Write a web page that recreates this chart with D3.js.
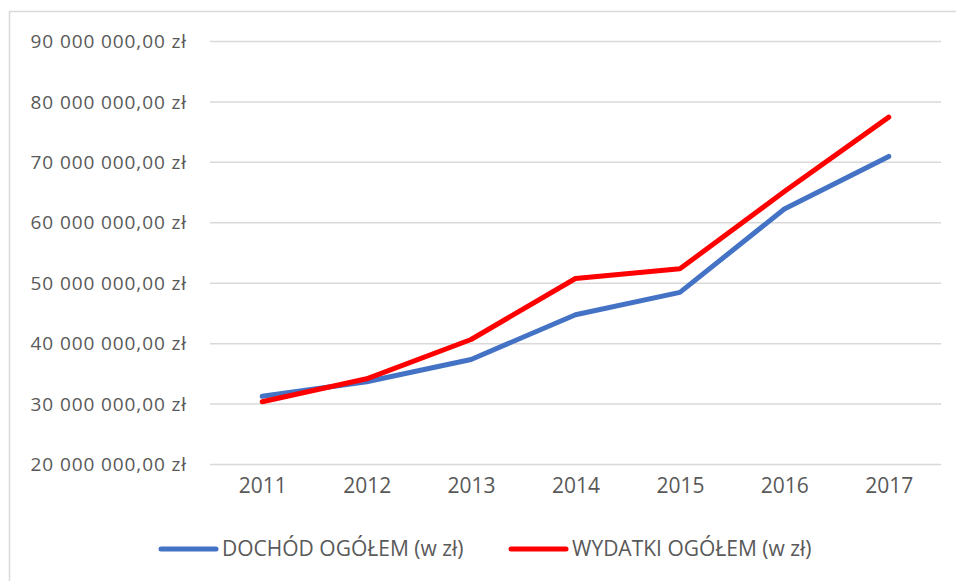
<!DOCTYPE html>
<html>
<head>
<meta charset="utf-8">
<script src="https://cdn.jsdelivr.net/npm/d3@7"></script>
<style>
  body { margin: 0; background: #fff; }
  text { font-family: "Open Sans", sans-serif; fill: #595959; }
</style>
</head>
<body>
<script>
// data
var years = ["2011", "2012", "2013", "2014", "2015", "2016", "2017"];
var dochod = [31200000, 33600000, 37300000, 44700000, 48400000, 62200000, 70900000];
var wydatki = [30300000, 34100000, 40600000, 50700000, 52300000, 65100000, 77400000];
var yTicks = [20000000, 30000000, 40000000, 50000000, 60000000, 70000000, 80000000, 90000000];
var seriesNames = ["DOCHÓD OGÓŁEM (w zł)", "WYDATKI OGÓŁEM (w zł)"];
var seriesColors = ["#4472C4", "#FF0000"];

var w = 956, h = 581;
var plot = {left: 210, right: 941, top: 41, bottom: 464};

var svg = d3.select("body")
  .append("svg")
  .attr("width", w)
  .attr("height", h);

// chart frame (cut by the screenshot on the right and bottom)
svg.append("rect")
  .attr("x", 9.5)
  .attr("y", 11.5)
  .attr("width", w)
  .attr("height", h)
  .attr("fill", "none")
  .attr("stroke", "#d9d9d9")
  .attr("stroke-width", 1.5);

var xScale = d3.scalePoint()
  .domain(years)
  .range([plot.left, plot.right])
  .padding(0.5);

var yScale = d3.scaleLinear()
  .domain([20000000, 90000000])
  .range([plot.bottom, plot.top]);

function fmt(v) {
  // 90 000 000,00 zł
  var s = String(Math.round(v)).replace(/\B(?=(\d{3})+(?!\d))/g, " ");
  return s + ",00 zł";
}

// gridlines + y labels
var yAxis = svg.append("g")
  .attr("class", "y axis")
  .attr("transform", "translate(" + plot.left + ",0)")
  .call(d3.axisLeft(yScale)
    .tickValues(yTicks)
    .tickSize(-(plot.right - plot.left))
    .tickPadding(23)
    .tickFormat(fmt));
yAxis.select(".domain").remove();
yAxis.selectAll(".tick line")
  .attr("stroke", "#d9d9d9")
  .attr("stroke-width", 1.5);
yAxis.selectAll(".tick text")
  .attr("fill", "#595959")
  .attr("dy", "0.35em")
  .style("font-size", "19px")
  .style("letter-spacing", "0.9px");

// x labels
var xAxis = svg.append("g")
  .attr("class", "x axis")
  .attr("transform", "translate(0," + plot.bottom + ")")
  .call(d3.axisBottom(xScale).tickSize(0).tickPadding(22));
xAxis.select(".domain").remove();
xAxis.selectAll(".tick text")
  .attr("fill", "#595959")
  .attr("dy", "0.35em")
  .style("font-size", "21px");

// lines
var line = d3.line()
  .x(function(d, i) { return xScale(years[i]); })
  .y(function(d) { return yScale(d); });

[dochod, wydatki].forEach(function(series, k) {
  svg.append("path")
    .datum(series)
    .attr("class", "line")
    .attr("d", line)
    .attr("fill", "none")
    .attr("stroke", seriesColors[k])
    .attr("stroke-width", 5)
    .attr("stroke-linecap", "round")
    .attr("stroke-linejoin", "round");
});

// legend
var legendX = [161, 511];
var legend = svg.selectAll(".legend")
  .data(seriesNames)
  .enter().append("g")
  .attr("class", "legend")
  .attr("transform", function(d, i) { return "translate(" + legendX[i] + ",549)"; });
legend.append("line")
  .attr("x1", 0)
  .attr("x2", 55)
  .attr("stroke", function(d, i) { return seriesColors[i]; })
  .attr("stroke-width", 5)
  .attr("stroke-linecap", "round");
legend.append("text")
  .attr("x", 61)
  .attr("dy", "0.35em")
  .style("font-size", "21px")
  .text(function(d) { return d; });
</script>
</body>
</html>
